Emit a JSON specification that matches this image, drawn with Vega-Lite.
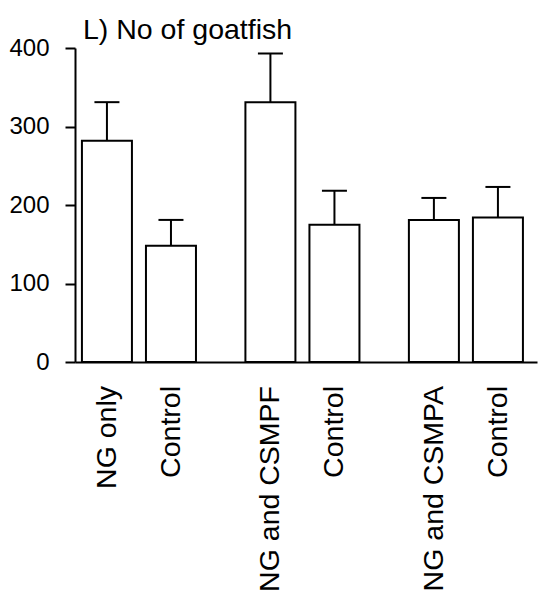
{
  "$schema": "https://vega.github.io/schema/vega-lite/v6.json",
  "autosize": {"type": "none"},
  "padding": {"left": 75, "top": 48, "right": 3, "bottom": 232},
  "width": 462,
  "height": 314,
  "background": "white",
  "config": {
    "font": "Liberation Sans",
    "view": {"stroke": null},
    "axis": {"grid": false, "domainColor": "black", "tickColor": "black", "labelColor": "black"}
  },
  "title": {
    "text": "L) No of goatfish",
    "anchor": "start",
    "frame": "group",
    "dx": 8,
    "dy": 17,
    "offset": 9,
    "fontSize": 28.5,
    "fontWeight": "normal",
    "font": "Liberation Sans",
    "color": "black"
  },
  "data": {
    "values": [
      {"group": "A", "treat": "T", "label": "NG only", "value": 282, "upper": 331},
      {"group": "A", "treat": "C", "label": "Control", "value": 148, "upper": 181},
      {"group": "B", "treat": "T", "label": "NG and CSMPF", "value": 331, "upper": 393},
      {"group": "B", "treat": "C", "label": "Control", "value": 175, "upper": 218},
      {"group": "C", "treat": "T", "label": "NG and CSMPA", "value": 181, "upper": 209},
      {"group": "C", "treat": "C", "label": "Control", "value": 184, "upper": 223}
    ]
  },
  "encoding": {
    "x": {
      "field": "group",
      "type": "nominal",
      "sort": ["A", "B", "C"],
      "scale": {"paddingInner": 0.174, "paddingOuter": 0},
      "axis": {"title": null, "labels": false, "ticks": false, "domainWidth": 2}
    },
    "xOffset": {
      "field": "treat",
      "type": "nominal",
      "sort": ["T", "C"],
      "scale": {"paddingInner": 0.219, "paddingOuter": 0.164, "align": 0.33}
    }
  },
  "layer": [
    {
      "mark": {"type": "rule", "stroke": "black", "strokeWidth": 2},
      "encoding": {
        "y": {"field": "value", "type": "quantitative"},
        "y2": {"field": "upper"}
      }
    },
    {
      "mark": {"type": "tick", "orient": "horizontal", "size": 25, "thickness": 2, "color": "black", "opacity": 1},
      "encoding": {
        "y": {"field": "upper", "type": "quantitative"}
      }
    },
    {
      "mark": {"type": "bar", "fill": "white", "stroke": "black", "strokeWidth": 2},
      "encoding": {
        "y": {
          "field": "value",
          "type": "quantitative",
          "scale": {"domain": [0, 400], "nice": false},
          "axis": {
            "title": null,
            "values": [0, 100, 200, 300, 400],
            "tickSize": 10,
            "tickWidth": 2,
            "domainWidth": 2,
            "labelFontSize": 24,
            "labelPadding": 16,
            "labelFont": "Liberation Sans"
          }
        }
      }
    },
    {
      "mark": {"type": "text", "angle": 270, "align": "right", "baseline": "middle", "dx": -24, "fontSize": 28.5, "font": "Liberation Sans", "color": "black"},
      "encoding": {
        "y": {"datum": 0, "type": "quantitative"},
        "text": {"field": "label"}
      }
    }
  ]
}
